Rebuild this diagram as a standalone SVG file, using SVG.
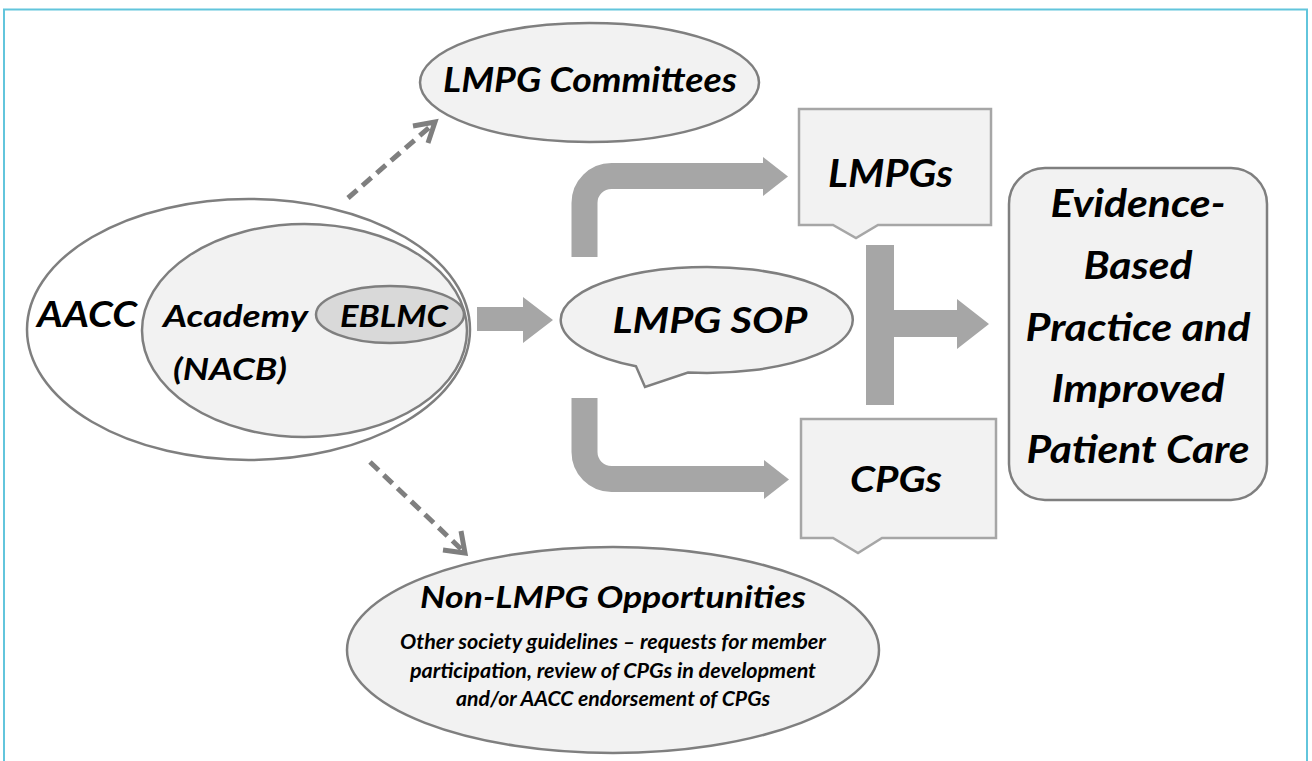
<svg xmlns="http://www.w3.org/2000/svg" width="1312" height="761" viewBox="0 0 1312 761">
<style>
text{font-family:"Lato","Open Sans","Liberation Sans",sans-serif;font-weight:bold;font-style:italic;fill:#000;text-anchor:middle}
.ell{stroke:#7f7f7f;stroke-width:2.5;fill:#f2f2f2}
.call{stroke:#a6a6a6;stroke-width:2.5;fill:#f2f2f2}
.blk{fill:#a6a6a6}
.shaft{fill:none;stroke:#a6a6a6;stroke-width:26}
.dash{fill:none;stroke:#7f7f7f;stroke-width:5;stroke-dasharray:12 7}
.head{fill:none;stroke:#7f7f7f;stroke-width:5}
</style>
<rect x="0" y="0" width="1312" height="761" fill="#fff"/>
<rect x="4" y="9.5" width="1303" height="820" fill="none" stroke="#62c5dc" stroke-width="2"/>

<g id="connectors">
  <line class="dash" x1="348" y1="198" x2="432" y2="125"/>
  <polyline class="head" points="413,126 435,122 428,143"/>
  <line class="dash" x1="370" y1="462" x2="461" y2="549"/>
  <polyline class="head" points="443,550 465,553 461,531"/>
  <polygon class="blk" points="477,307 523,307 523,297 553,320 523,343 523,331 477,331"/>
  <path class="shaft" d="M584.5,257 V203 A27,27 0 0 1 611.5,176 H765"/>
  <polygon class="blk" points="763,157 788,176.5 763,196"/>
  <path class="shaft" d="M584.5,398 V452 A27,27 0 0 0 611.5,479 H765"/>
  <polygon class="blk" points="764,460 789,479.5 764,499"/>
  <rect class="blk" x="866" y="245" width="28" height="160"/>
  <polygon class="blk" points="893,310 957,310 957,299 989,324 957,349 957,337 893,337"/>
</g>

<g id="lmpg-committees">
  <ellipse class="ell" cx="589.5" cy="82.5" rx="169.5" ry="59.5"/>
  <text x="590" y="92" font-size="34" textLength="294" lengthAdjust="spacingAndGlyphs">LMPG Committees</text>
</g>

<g id="aacc">
  <ellipse cx="248.5" cy="329.5" rx="221.5" ry="130.5" fill="#fff" stroke="#7f7f7f" stroke-width="2.5"/>
  <text x="87" y="327" font-size="37" textLength="100" lengthAdjust="spacingAndGlyphs">AACC</text>
</g>

<g id="academy">
  <ellipse class="ell" cx="304.5" cy="330.5" rx="162.5" ry="106.5"/>
  <text x="235.5" y="327" font-size="31" textLength="145" lengthAdjust="spacingAndGlyphs">Academy</text>
  <text x="230" y="380" font-size="31" textLength="114" lengthAdjust="spacingAndGlyphs">(NACB)</text>
</g>

<g id="eblmc">
  <ellipse cx="390" cy="314.5" rx="74" ry="28.5" fill="#d9d9d9" stroke="#7f7f7f" stroke-width="2.5"/>
  <text x="394" y="327" font-size="31" textLength="108" lengthAdjust="spacingAndGlyphs">EBLMC</text>
</g>

<g id="lmpg-sop">
  <path class="ell" d="M688,372.5 A146,53 0 1 0 636,366.3 L645,387 Z"/>
  <text x="710" y="333" font-size="37" textLength="195" lengthAdjust="spacingAndGlyphs">LMPG SOP</text>
</g>

<g id="lmpgs">
  <path class="call" d="M799,109 H991 V225 H878 L856,238 L833,225 H799 Z"/>
  <text x="890.5" y="187" font-size="39" textLength="125" lengthAdjust="spacingAndGlyphs">LMPGs</text>
</g>

<g id="cpgs">
  <path class="call" d="M801,419 H996 V538 H882 L858,553 L833,538 H801 Z"/>
  <text x="896" y="492" font-size="37" textLength="92" lengthAdjust="spacingAndGlyphs">CPGs</text>
</g>

<g id="evidence">
  <rect x="1009" y="168" width="258" height="332" rx="36" ry="36" fill="#f2f2f2" stroke="#7f7f7f" stroke-width="2.5"/>
  <text x="1138" y="217" font-size="39" textLength="175" lengthAdjust="spacingAndGlyphs">Evidence-</text>
  <text x="1138" y="279" font-size="39" textLength="109" lengthAdjust="spacingAndGlyphs">Based</text>
  <text x="1138" y="341" font-size="39" textLength="225" lengthAdjust="spacingAndGlyphs">Practice and</text>
  <text x="1138" y="402" font-size="39" textLength="173" lengthAdjust="spacingAndGlyphs">Improved</text>
  <text x="1138" y="463" font-size="39" textLength="223" lengthAdjust="spacingAndGlyphs">Patient Care</text>
</g>

<g id="non-lmpg">
  <ellipse class="ell" cx="613" cy="650" rx="266" ry="103"/>
  <text x="613" y="608" font-size="31" textLength="386" lengthAdjust="spacingAndGlyphs">Non-LMPG Opportunities</text>
  <text x="613" y="649" font-size="20" textLength="426" lengthAdjust="spacingAndGlyphs">Other society guidelines – requests for member</text>
  <text x="613" y="678" font-size="20" textLength="406" lengthAdjust="spacingAndGlyphs">participation, review of CPGs in development</text>
  <text x="613" y="706" font-size="20" textLength="314" lengthAdjust="spacingAndGlyphs">and/or AACC endorsement of CPGs</text>
</g>
</svg>
